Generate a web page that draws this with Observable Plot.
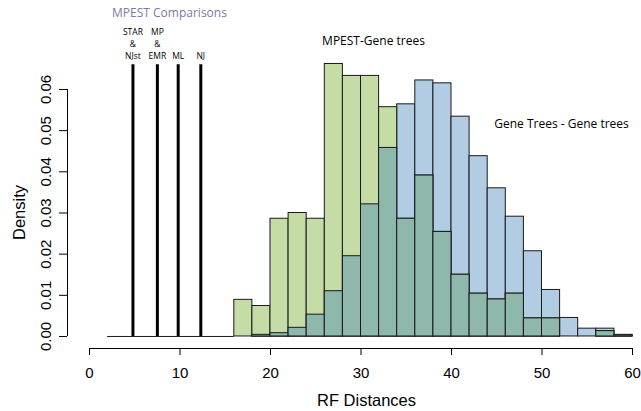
<!DOCTYPE html>
<html><head><meta charset="utf-8">
<script src="https://cdn.jsdelivr.net/npm/d3@7"></script>
<script src="https://cdn.jsdelivr.net/npm/@observablehq/plot@0.6"></script>
<style>body{margin:0;background:#fff} svg{display:block}</style>
</head><body><div id="chart"></div>
<script>
// Histogram bins (left edge), bin width 2
const binStarts = [16, 18, 20, 22, 24, 26, 28, 30, 32, 34, 36, 38, 40, 42, 44, 46, 48, 50, 52, 54, 56, 58];
const binWidth = 2;
// Gene Trees - Gene trees (blue)
const geneGeneDensity = [0, 0.0004, 0.0008, 0.0021, 0.0053, 0.0110, 0.0195, 0.0321, 0.0458, 0.0564, 0.0622, 0.0615, 0.0534, 0.0438, 0.0360, 0.0291, 0.0207, 0.0113, 0.0045, 0.0019, 0.0019, 0.0004];
// MPEST - Gene trees (green)
const mpestGeneDensity = [0.0089, 0.0074, 0.0286, 0.0300, 0.0286, 0.0662, 0.0633, 0.0633, 0.0557, 0.0286, 0.0391, 0.0254, 0.0150, 0.0104, 0.0090, 0.0104, 0.0044, 0.0044, 0, 0, 0.0013, 0.0003];
// MPEST comparisons (vertical lines)
const mpestMethods = ["STAR\n&\nNJst", "MP\n&\nEMR", "ML", "NJ"];
const mpestRF = [4.8, 7.5, 9.8, 12.3];
const mpestLineTop = 0.066;
const baselineStart = 2;
// Axes
const xTicks = [0, 10, 20, 30, 40, 50, 60];
const yTicks = [0, 0.01, 0.02, 0.03, 0.04, 0.05, 0.06];

const bins = binStarts.map((b, i) => ({
  x1: b, x2: b + binWidth,
  blue: geneGeneDensity[i], green: mpestGeneDensity[i],
  both: Math.min(geneGeneDensity[i], mpestGeneDensity[i])
}));
const lines = mpestRF.map((rf, i) => ({rf, label: mpestMethods[i]}));

const xDomain = [-2.431, 60];
const yDomain = [-0.00292, 0.06];
const BLUE = "#b1cce3", GREEN = "#c5dca6", TEAL = "#8db8ab", EDGE = "#1a1a1a";
const ANN = "'Open Sans', 'Noto Sans', sans-serif";

const chart = Plot.plot({
  width: 641, height: 411,
  marginLeft: 67, marginRight: 9, marginTop: 89, marginBottom: 63,
  x: {domain: xDomain, axis: null},
  y: {domain: yDomain, axis: null},
  style: {fontFamily: "'Liberation Sans', Arial, sans-serif", fontSize: "15px", background: "#fff", color: "#000"},
  marks: [
    Plot.ruleY([0], {x1: baselineStart, x2: d3.min(binStarts), stroke: EDGE, strokeWidth: 1}),
    Plot.rectY(bins.filter(d => d.blue > 0), {x1: "x1", x2: "x2", y: "blue", fill: BLUE, stroke: EDGE, strokeWidth: 1}),
    Plot.rectY(bins.filter(d => d.green > 0), {x1: "x1", x2: "x2", y: "green", fill: GREEN, stroke: EDGE, strokeWidth: 1}),
    Plot.rectY(bins.filter(d => d.both > 0), {x1: "x1", x2: "x2", y: "both", fill: TEAL, stroke: EDGE, strokeWidth: 1}),
    Plot.ruleX(lines, {x: "rf", y1: 0, y2: mpestLineTop, stroke: "#000", strokeWidth: 3}),
    Plot.text(lines, {x: "rf", y: mpestLineTop, text: "label", dy: -6, lineAnchor: "bottom", lineHeight: 1.4, fontSize: 8.5, fontFamily: ANN, fill: "#000"}),
    // Axes (R style, detached)
    Plot.ruleY([yDomain[0]], {x1: d3.min(xTicks), x2: d3.max(xTicks), stroke: "#000", strokeWidth: 1}),
    Plot.ruleX([xDomain[0]], {y1: d3.min(yTicks), y2: d3.max(yTicks), stroke: "#000", strokeWidth: 1}),
    Plot.axisX({ticks: xTicks, tickSize: 7, tickPadding: 12, fontSize: 15, label: null, stroke: "#000"}),
    Plot.axisY({ticks: yTicks, tickSize: 8, fill: "none", label: null, stroke: "#000"}),
    Plot.text(yTicks, {y: d => d, text: d => d3.format(".2f")(d), frameAnchor: "left", dx: -17, rotate: -90, lineAnchor: "bottom", textAnchor: "middle", fontSize: 15, fill: "#000"}),
    Plot.text(["Density"], {frameAnchor: "left", dx: -48, dy: -6.5, rotate: -90, lineAnchor: "middle", textAnchor: "middle", fontSize: 16.5, fill: "#000"}),
    Plot.text(["RF Distances"], {frameAnchor: "bottom", dx: 16.5, dy: 52, lineAnchor: "middle", textAnchor: "middle", fontSize: 16.5, fill: "#000"}),
    // Annotations
    Plot.text(["MPEST Comparisons"], {frameAnchor: "top-left", dx: 102, dy: -76, lineAnchor: "middle", textAnchor: "middle", fontSize: 12, fontFamily: ANN, fill: "#7b7ba3"}),
    Plot.text(["MPEST-Gene trees"], {frameAnchor: "top-left", dx: 306, dy: -48, lineAnchor: "middle", textAnchor: "middle", fontSize: 12, fontFamily: ANN, fill: "#000"}),
    Plot.text(["Gene Trees - Gene trees"], {frameAnchor: "top-left", dx: 494, dy: 35, lineAnchor: "middle", textAnchor: "middle", fontSize: 12, fontFamily: ANN, fill: "#000"})
  ]
});
document.getElementById("chart").appendChild(chart);
</script>
</body></html>
